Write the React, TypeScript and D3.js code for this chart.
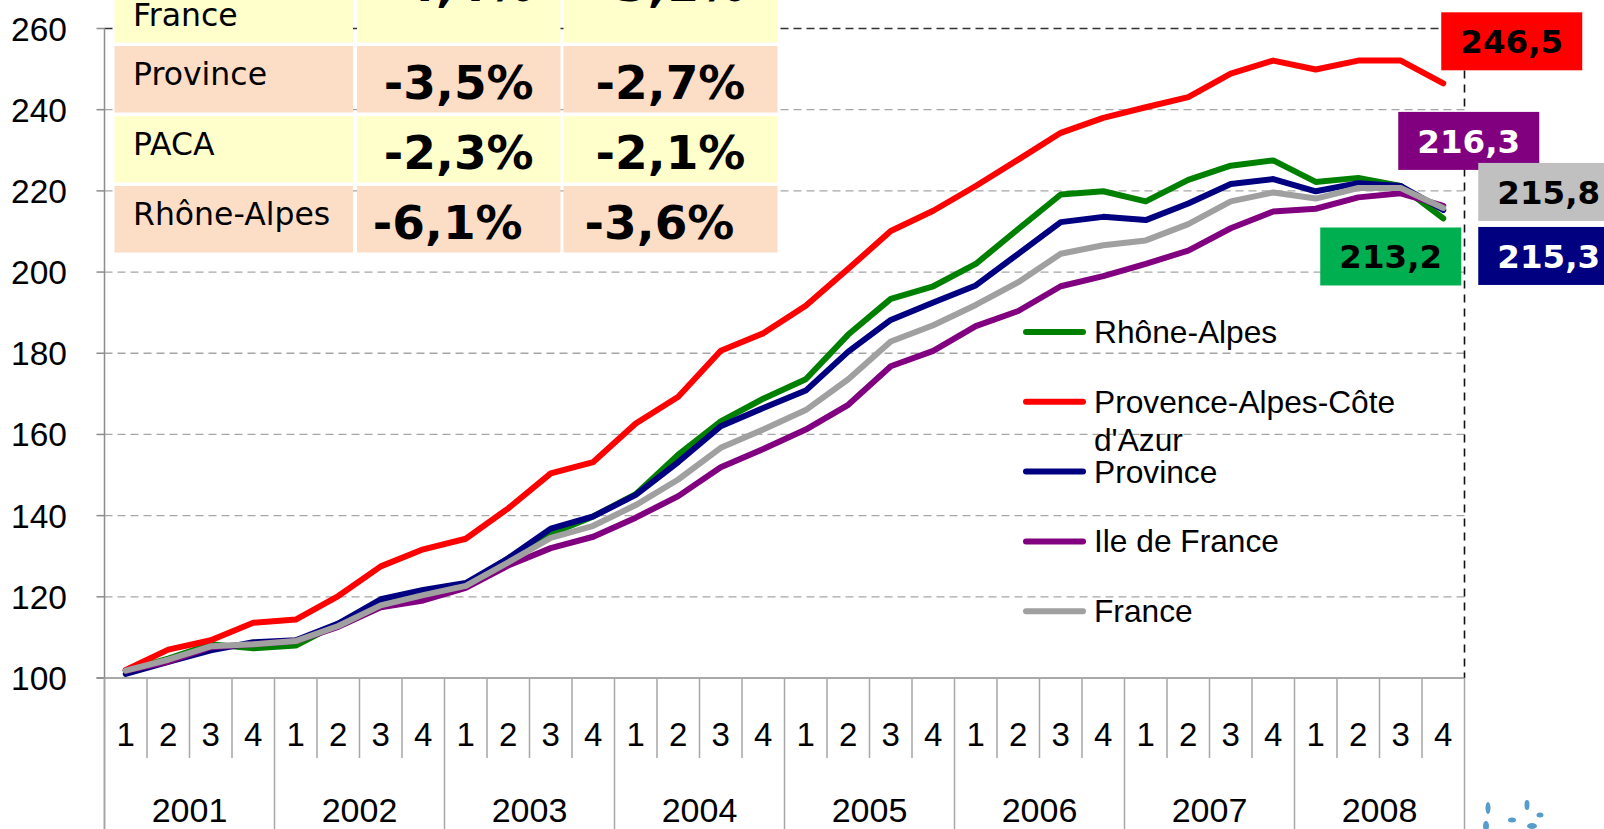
import React from "react";
import * as d3 from "d3";

const W = 1604;
const H = 829;

const years = ["2001", "2002", "2003", "2004", "2005", "2006", "2007", "2008"];
const quarters = ["1", "2", "3", "4"];
const categories = years.flatMap((y) => quarters.map((q) => `${y}-${q}`));

const rhoneAlpes = [101.8, 104.8, 108.3, 107.3, 108, 113.4, 118.4, 121, 122.4, 129.5, 135.5, 139.8, 145.3, 155, 163.2, 168.8, 173.6, 184.6, 193.4, 196.5, 202, 210.6, 219.1, 219.9, 217.4, 222.7, 226.2, 227.5, 222.2, 223.2, 221.2, 213.2];
const paca = [102, 107, 109.3, 113.6, 114.4, 120.2, 127.5, 131.7, 134.3, 141.8, 150.4, 153.2, 162.7, 169.3, 180.6, 184.9, 191.7, 200.8, 210.1, 215.1, 221.2, 227.7, 234.3, 238, 240.6, 243.1, 248.9, 252.1, 249.9, 252.1, 252.1, 246.5];
const province = [101, 104, 106.8, 108.8, 109.3, 113.4, 119.4, 121.7, 123.4, 129.5, 136.8, 139.8, 145.1, 153.2, 162, 166.5, 170.8, 180.4, 188.2, 192.5, 196.7, 204.5, 212.3, 213.6, 212.8, 216.9, 221.7, 222.9, 219.9, 221.9, 221.2, 215.3];
const ileDeFrance = [101.8, 104, 107.6, 108.3, 109.1, 112.6, 117.4, 119.1, 122.2, 127.7, 132, 134.8, 139.5, 144.8, 151.9, 156.4, 161.2, 167.3, 176.8, 180.6, 186.7, 190.4, 196.5, 199, 202, 205.3, 210.8, 214.9, 215.6, 218.4, 219.4, 216.3];
const france = [101.8, 104.5, 107.8, 108.3, 109.1, 112.8, 117.9, 120.4, 122.7, 128.5, 134.5, 137.5, 142.6, 148.9, 156.7, 161.2, 166, 173.6, 182.9, 186.9, 191.9, 197.5, 204.5, 206.6, 207.8, 211.8, 217.4, 219.6, 218.1, 220.7, 220.7, 215.8];

const seriesNames = ["Rhône-Alpes", "Provence-Alpes-Côte d'Azur", "Province", "Ile de France", "France"];
const seriesColors = ["#008000", "#FF0000", "#000080", "#800080", "#A0A0A0"];
const seriesValues = [rhoneAlpes, paca, province, ileDeFrance, france];

const yTicks = [100, 120, 140, 160, 180, 200, 220, 240, 260];

// end-of-series value labels (series index, box colour, text colour, offset from last point)
const endLabelSeries = [1, 3, 4, 0, 2];
const endLabelFill = ["#FF0000", "#800080", "#C0C0C0", "#00B050", "#000080"];
const endLabelText = ["#000000", "#FFFFFF", "#000000", "#000000", "#FFFFFF"];
const endLabelDx = [-2, -45, 35, -123, 35];
const endLabelDy = [-71, -94, -45, 9, 17];

// summary table
const tableLabels = [["Ile de", "France"], ["Province"], ["PACA"], ["Rhône-Alpes"]];
const tableCol1 = ["-4,4%", "-3,5%", "-2,3%", "-6,1%"];
const tableCol2 = ["-3,1%", "-2,7%", "-2,1%", "-3,6%"];
const tableFills = ["#FFFFCC", "#FCDEC7", "#FFFFCC", "#FCDEC7"];
const tableLabelBase = [17, 39, 39, 39];
const tableValueBase = [25, 53, 53, 53];
const tableValueDx = [0, 0, 0, -11];

export default function App() {
  const left = 104.5;
  const right = 1464.5;
  const x = d3.scaleBand<string>().domain(categories).range([left, right]);
  const y = d3.scaleLinear().domain([100, 260]).range([678, 28.5]);
  const bw = x.bandwidth();
  const cx = (i: number) => (x(categories[i]) as number) + bw / 2;

  const line = d3
    .line<number>()
    .x((_, i) => cx(i))
    .y((d) => y(d));

  const boundaries = d3.range(categories.length + 1).map((k) => left + k * bw);

  // table layout
  const colX = [114.5, 357, 563.5];
  const colW = [238.5, 203.5, 214];
  const rowTop0 = -24;
  const rowH = 66.5;
  const rowGap = 3.5;

  const lastI = categories.length - 1;

  return (
    <svg
      width={W}
      height={H}
      style={{ position: "absolute", left: 0, top: 0, background: "#fff" }}
      fontFamily="'Liberation Sans', Arial, sans-serif"
    >
      <rect x={0} y={0} width={W} height={H} fill="#fff" />
      {/* gridlines */}
      {yTicks.filter((t) => t > 100 && t < 260).map((t) => (
        <line key={t} x1={left} x2={right} y1={y(t)} y2={y(t)} stroke="#A6A6A6" strokeWidth={1.3} strokeDasharray="8,5" />
      ))}
      <line x1={left} x2={right} y1={y(260)} y2={y(260)} stroke="#333" strokeWidth={1.3} strokeDasharray="8,5" />
      <line x1={right} x2={right} y1={y(260)} y2={y(100)} stroke="#111" strokeWidth={1.6} strokeDasharray="8,6" />
      {/* y axis */}
      <line x1={left} x2={left} y1={y(260)} y2={H} stroke="#8C8C8C" strokeWidth={1.5} />
      {yTicks.map((t) => (
        <g key={t}>
          <line x1={left - 8} x2={left} y1={y(t)} y2={y(t)} stroke="#8C8C8C" strokeWidth={1.5} />
          <text x={67} y={y(t)} dy="0.36em" textAnchor="end" fontSize={33.5} fill="#000">
            {t}
          </text>
        </g>
      ))}
      {/* x axis */}
      <line x1={left - 8} x2={right} y1={y(100)} y2={y(100)} stroke="#8C8C8C" strokeWidth={1.5} />
      {boundaries.map((bx, k) => (
        <line
          key={k}
          x1={bx}
          x2={bx}
          y1={y(100)}
          y2={k % 4 === 0 ? H : 758}
          stroke="#A6A6A6"
          strokeWidth={1.5}
        />
      ))}
      {categories.map((c, i) => (
        <text key={c} x={cx(i)} y={746} textAnchor="middle" fontSize={33} fill="#000">
          {quarters[i % 4]}
        </text>
      ))}
      {years.map((yr, j) => (
        <text key={yr} x={left + (j * 4 + 2) * bw} y={822} textAnchor="middle" fontSize={34} fill="#000">
          {yr}
        </text>
      ))}
      {/* table */}
      {tableLabels.map((lab, r) => {
        const top = rowTop0 + r * (rowH + rowGap);
        return (
          <g key={r}>
            {colX.map((cxx, c) => (
              <rect key={c} x={cxx} y={top} width={colW[c]} height={rowH} fill={tableFills[r]} />
            ))}
            <text x={133} y={top + tableLabelBase[r]} fontFamily="'DejaVu Sans', Verdana, sans-serif" fontSize={31.5} fill="#000">
              {lab.map((l, li) => (
                <tspan key={li} x={133} dy={li === 0 ? 0 : 33}>
                  {l}
                </tspan>
              ))}
            </text>
            <text x={colX[1] + colW[1] / 2 + tableValueDx[r]} y={top + tableValueBase[r]} textAnchor="middle" fontFamily="'DejaVu Sans', Verdana, sans-serif" fontWeight="bold" fontSize={47} fill="#000">
              {tableCol1[r]}
            </text>
            <text x={colX[2] + colW[2] / 2 + tableValueDx[r]} y={top + tableValueBase[r]} textAnchor="middle" fontFamily="'DejaVu Sans', Verdana, sans-serif" fontWeight="bold" fontSize={47} fill="#000">
              {tableCol2[r]}
            </text>
          </g>
        );
      })}
      {/* series */}
      {seriesValues.map((vals, s) => (
        <path key={s} d={line(vals) as string} fill="none" stroke={seriesColors[s]} strokeWidth={6} strokeLinejoin="round" strokeLinecap="round" />
      ))}
      {/* legend */}
      {seriesNames.map((n, s) => {
        const ly = 332 + s * 69.8;
        const parts = s === 1 ? ["Provence-Alpes-Côte", "d'Azur"] : [n];
        return (
          <g key={n}>
            <line x1={1026} x2={1083} y1={ly} y2={ly} stroke={seriesColors[s]} strokeWidth={6} strokeLinecap="round" />
            <text x={1094} y={ly + 11} fontSize={31.7} fill="#000">
              {parts.map((p, pi) => (
                <tspan key={pi} x={1094} dy={pi === 0 ? 0 : 38}>
                  {p}
                </tspan>
              ))}
            </text>
          </g>
        );
      })}
      {/* end labels */}
      {endLabelSeries.map((si, k) => {
        const v = seriesValues[si][lastI];
        const bx = cx(lastI) + endLabelDx[k];
        const by = y(v) + endLabelDy[k];
        return (
          <g key={k}>
            <rect x={bx} y={by} width={141} height={58} fill={endLabelFill[k]} />
            <text x={bx + 70.5} y={by + 41} textAnchor="middle" fontFamily="'DejaVu Sans', Verdana, sans-serif" fontWeight="bold" fontSize={32.5} fill={endLabelText[k]}>
              {d3.format(".1f")(v).replace(".", ",")}
            </text>
          </g>
        );
      })}
      {/* logo hint */}
      <g fill="#3A8CC4" opacity={0.85}>
        <ellipse cx={1488} cy={808} rx={2.5} ry={6} />
        <ellipse cx={1486} cy={826} rx={3} ry={5} />
        <ellipse cx={1527} cy={805} rx={2.5} ry={5} />
        <ellipse cx={1512} cy={820} rx={4} ry={2.5} />
        <ellipse cx={1540} cy={815} rx={3.5} ry={2.5} />
        <ellipse cx={1532} cy={826} rx={5} ry={3} />
      </g>
    </svg>
  );
}
